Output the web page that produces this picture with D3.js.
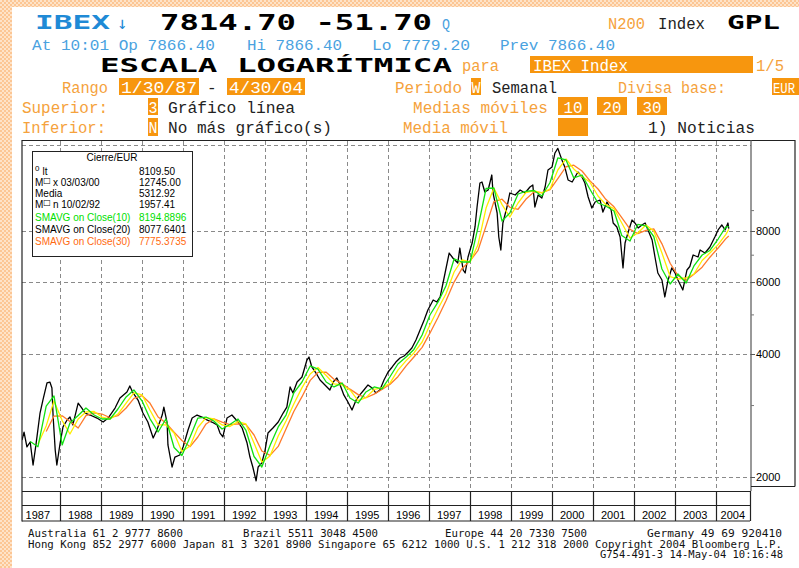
<!DOCTYPE html>
<html><head><meta charset="utf-8">
<script src="https://cdn.jsdelivr.net/npm/d3@7"></script>
<style>
html,body{margin:0;padding:0;background:#fff;}
svg{display:block;}
</style></head><body>
<svg id="c" width="799" height="568"></svg>
<script>
// ---------------- DATA ----------------
const priceDates = [1987.08,1987.13,1987.20,1987.28,1987.35,1987.42,1987.52,1987.59,1987.69,1987.76,1987.81,1987.84,1987.89,1987.93,
1988.01,1988.08,1988.18,1988.25,1988.32,1988.45,1988.54,1988.62,1988.74,1988.91,
1989.06,1989.18,1989.35,1989.47,1989.64,1989.71,1989.79,1989.91,
1990.03,1990.15,1990.28,1990.37,1990.50,1990.54,1990.62,1990.64,1990.74,1990.81,1990.93,
1991.01,1991.13,1991.23,1991.35,1991.47,1991.59,1991.71,1991.84,1991.91,1991.98,
1992.08,1992.20,1992.35,1992.45,1992.57,1992.64,1992.71,1992.79,1992.84,1992.93,
1993.01,1993.08,1993.20,1993.33,1993.45,1993.54,1993.62,1993.69,1993.79,1993.91,
1994.03,1994.08,1994.15,1994.28,1994.35,1994.47,1994.59,1994.67,1994.76,1994.84,1994.93,
1995.03,1995.13,1995.23,1995.32,1995.42,1995.52,1995.62,1995.71,1995.81,1995.91,
1996.01,1996.11,1996.20,1996.30,1996.40,1996.50,1996.59,1996.69,1996.79,1996.89,1996.98,
1997.11,1997.20,1997.28,1997.40,1997.50,1997.59,1997.71,1997.76,1997.84,1997.89,1997.96,
1998.06,1998.13,1998.18,1998.25,1998.30,1998.37,1998.45,1998.54,1998.57,1998.67,1998.71,1998.76,1998.81,1998.91,1998.98,
1999.11,1999.23,1999.35,1999.47,1999.54,1999.59,1999.67,1999.76,1999.84,1999.91,
2000.01,2000.08,2000.15,2000.25,2000.32,2000.40,2000.50,2000.57,2000.64,2000.74,2000.81,2000.89,2000.98,
2001.06,2001.18,2001.25,2001.35,2001.45,2001.50,2001.59,2001.67,2001.74,2001.79,2001.86,2001.96,
2002.03,2002.11,2002.20,2002.28,2002.35,2002.45,2002.52,2002.59,2002.69,2002.76,2002.84,2002.93,
2003.01,2003.08,2003.20,2003.30,2003.37,2003.45,2003.57,2003.62,2003.74,2003.86,2003.98,
2004.06,2004.15,2004.23,2004.30,2004.32];
const priceValues = [2464,2576,2369,2436,2140,2396,2868,3086,3398,3415,3303,2804,2328,2140,
2422,2652,2758,2804,2682,3034,2950,2868,2836,2788,
2726,2788,2950,3122,3229,3341,3212,3086,
2868,2726,2492,2606,2836,2966,2712,2396,2116,2238,2264,
2368,2606,2788,2836,2804,2758,2726,2682,2562,2506,
2788,2836,2726,2636,2422,2238,2116,1957,2116,2164,
2328,2562,2636,2726,2868,2966,3322,3212,3416,3514,
3866,3932,3718,3554,3454,3360,3266,3416,3494,3360,3176,
3052,2918,3086,3176,3266,3360,3303,3212,3266,3454,
3614,3718,3823,3910,3955,4046,4139,4328,4580,4846,5126,
5424,5363,5516,6314,7066,6871,6680,7268,6422,6314,6910,
7476,8184,9158,10486,10544,9968,10080,10968,9911,8854,7734,7188,8370,9158,9911,
9800,10080,9911,10252,10368,9158,9800,9636,10252,11282,
11476,12417,12745,11938,11476,10666,10544,10845,11156,10845,10486,9690,9106,
9420,9528,8904,9420,9004,8370,8184,7734,6496,7476,7910,8511,
8370,8139,8277,8370,8048,7604,6910,6314,6070,5516,6070,6496,
6314,6070,5738,6422,6550,6988,6910,7188,7066,7310,7734,
8048,8277,8048,8370,8110];

const maDates = [1987.28,1987.47,1987.67,1987.86,1988.06,1988.25,1988.45,1988.64,1988.84,1989.03,
1989.23,1989.42,1989.62,1989.81,1990.01,1990.20,1990.40,1990.59,1990.79,1990.98,
1991.18,1991.37,1991.57,1991.76,1991.96,1992.15,1992.35,1992.54,1992.74,1992.93,
1993.13,1993.33,1993.52,1993.71,1993.91,1994.11,1994.30,1994.50,1994.69,1994.89,
1995.08,1995.28,1995.47,1995.67,1995.86,1996.06,1996.25,1996.45,1996.64,1996.84,
1997.03,1997.23,1997.42,1997.62,1997.81,1998.01,1998.20,1998.40,1998.59,1998.79,
1998.98,1999.18,1999.37,1999.57,1999.76,1999.96,2000.15,2000.35,2000.54,2000.74,
2000.93,2001.13,2001.32,2001.52,2001.71,2001.91,2002.10,2002.30,2002.49,2002.69,
2002.89,2003.08,2003.28,2003.47,2003.67,2003.86,2004.06,2004.25,2004.32];
const ma10 = [2443,2372,2983,3158,2396,2712,2828,2950,2836,2773,
2773,2934,3140,3266,3069,2780,2577,2773,2362,2258,
2506,2788,2804,2742,2621,2689,2773,2606,2245,2116,
2389,2652,2836,3212,3416,3739,3675,3416,3322,3396,
3122,3034,3230,3322,3285,3524,3781,3932,4104,4452,
4984,5363,5869,6833,6718,6718,8139,10165,10194,8463,
8854,9855,9996,10052,9745,10515,12073,11938,10788,10968,
10137,9367,9210,8954,7800,7561,8300,8230,7756,6458,
5935,6279,5968,6569,6988,7168,7647,8184,8195];
const ma20 = [null,2410,2667,3069,2749,2548,2773,2885,2893,2804,
2773,2852,3034,3212,3176,2918,2682,2682,2562,2308,
2382,2643,2795,2773,2682,2658,2733,2697,2422,2175,
2252,2520,2742,3017,3310,3574,3707,3544,3379,3360,
3266,3076,3128,3275,3303,3398,3654,3853,4023,4280,
4710,5169,5610,6350,6794,6718,7392,9106,10194,9283,
8656,9367,9935,10024,9911,10137,11282,12005,11346,10875,
10544,9745,9288,9075,8370,7690,7910,8277,8000,7066,
6188,6104,6138,6279,6775,7066,7408,7851,8078];
const ma30 = [null,null,2585,2820,2823,2734,2636,2826,2872,2852,
2793,2826,2950,3114,3162,3034,2804,2712,2575,2456,
2373,2506,2697,2777,2726,2685,2697,2692,2534,2315,
2259,2376,2621,2892,3145,3448,3606,3609,3469,3384,
3281,3181,3126,3190,3275,3373,3520,3741,3934,4153,
4498,4921,5393,6000,6469,6765,7160,8236,9437,9568,
9142,9042,9566,9974,9929,10097,10740,11490,11590,11220,
10625,10137,9566,9170,8627,8082,7880,8030,8098,7442,
6670,6218,6062,6270,6525,6902,7268,7664,7775];

const yearLabels = [1987,1988,1989,1990,1991,1992,1993,1994,1995,1996,1997,1998,1999,2000,2001,2002,2003,2004];
const yTickValues = [2000,4000,6000,8000];
const yMinorTicks = [3000,5000,7000,9000];
const gridValues = [2000,4000,6000,8000,13000];

const legendTitle = "Cierre/EUR";
const legendNames = ["lt","x  03/03/00","Media","n  10/02/92","SMAVG on Close(10)","SMAVG on Close(20)","SMAVG on Close(30)"];
const legendValues = ["8109.50","12745.00","5312.92","1957.41","8194.8896","8077.6401","7775.3735"];
const legendColors = ["#000","#000","#000","#000","#00e000","#000","#ff6a10"];

// ---------------- DRAW ----------------
const svg = d3.select("#c");
const defs = svg.append("defs");
const pat = defs.append("pattern").attr("id","chk").attr("width",4).attr("height",4).attr("patternUnits","userSpaceOnUse");
pat.append("rect").attr("width",4).attr("height",4).attr("fill","#fcc694");
pat.append("rect").attr("x",0).attr("y",0).attr("width",2).attr("height",2).attr("fill","#fee3c8");
pat.append("rect").attr("x",2).attr("y",2).attr("width",2).attr("height",2).attr("fill","#fee3c8");
defs.append("clipPath").attr("id","plotclip").append("rect").attr("x",22).attr("y",141).attr("width",729).attr("height",350);

svg.append("rect").attr("width",799).attr("height",568).attr("fill","#fff");
svg.append("rect").attr("x",0).attr("y",0).attr("width",12).attr("height",568).attr("fill","url(#chk)");
svg.append("rect").attr("x",0).attr("y",0).attr("width",799).attr("height",7).attr("fill","url(#chk)");

const MONO = "'Liberation Mono','DejaVu Sans Mono',monospace";
const BOLD = "'DejaVu Sans Mono','Liberation Mono',monospace";
function txt(x, y, s, o) {
  o = o || {};
  const t = svg.append("text").attr("x", x).attr("y", y).text(s)
    .attr("font-family", o.ff || MONO).attr("font-size", o.fs || 16)
    .attr("fill", o.fill || "#222").attr("font-weight", o.fw || "normal");
  if (o.tl) t.attr("textLength", o.tl).attr("lengthAdjust", "spacingAndGlyphs");
  if (o.anchor) t.attr("text-anchor", o.anchor);
  return t;
}
function box(x, y, w, h, fill) {
  svg.append("rect").attr("x", x).attr("y", y).attr("width", w).attr("height", h).attr("fill", fill || "#f7960e");
}
const BLUE = "#1f8ad6", LBLUE = "#4aa2df", ORG = "#f5a23c", ORGB = "#f7960e", DARK = "#222";

// line 1
txt(35, 29, "IBEX", {ff: BOLD, fs: 20, fw: "bold", fill: BLUE, tl: 75});
txt(117, 29, "\u2193", {ff: BOLD, fs: 17, fill: BLUE});
txt(160, 30, "7814.70 -51.70", {ff: BOLD, fs: 21, fw: "bold", fill: "#000", tl: 272});
txt(442, 29, "Q", {fs: 15, fill: LBLUE, tl: 8});
txt(608, 29, "N200", {fs: 16, fill: ORG, tl: 37});
txt(658, 29, "Index", {fs: 16, fill: DARK, tl: 47});
txt(727, 29, "GPL", {ff: BOLD, fs: 20, fw: "bold", fill: "#000", tl: 53});
// line 2
txt(32, 49.5, "At 10:01 Op 7866.40", {fs: 14.5, fill: LBLUE, tl: 183});
txt(247, 49.5, "Hi 7866.40", {fs: 14.5, fill: LBLUE, tl: 95});
txt(372, 49.5, "Lo 7779.20", {fs: 14.5, fill: LBLUE, tl: 98});
txt(500, 49.5, "Prev 7866.40", {fs: 14.5, fill: LBLUE, tl: 115});
// line 3
txt(100, 72, "ESCALA LOGARÍTMICA", {ff: BOLD, fs: 20, fw: "bold", fill: "#000", tl: 352});
txt(462, 71, "para", {fs: 16, fill: ORG, tl: 37});
box(530, 56, 223, 17, ORGB);
txt(533, 71, "IBEX Index", {fs: 16, fill: "#fff", tl: 95});
txt(756, 71, "1/5", {fs: 16, fill: ORG, tl: 28});
// line 4
txt(62, 93, "Rango", {fs: 16, fill: ORG, tl: 46});
box(119, 78, 80, 17, ORGB); txt(121, 93, "1/30/87", {fs: 16, fill: "#fff", tl: 76});
txt(207, 93, "-", {fs: 16, fill: DARK});
box(227, 78, 78, 17, ORGB); txt(229, 93, "4/30/04", {fs: 16, fill: "#fff", tl: 74});
txt(395, 93, "Periodo", {fs: 16, fill: ORG, tl: 67});
box(471, 78, 10, 17, ORGB); txt(471.5, 93, "W", {fs: 16, fill: "#fff", tl: 9});
txt(492, 93, "Semanal", {fs: 16, fill: DARK, tl: 65});
txt(618, 93, "Divisa base:", {fs: 16, fill: ORG, tl: 108});
box(772, 78, 27, 17, ORGB); txt(773, 93, "EUR", {fs: 15, fill: "#fff", tl: 22});
// line 5
txt(22, 113, "Superior:", {fs: 16, fill: ORG, tl: 86});
box(148, 98, 10, 17, ORGB); txt(148.5, 113, "3", {fs: 16, fill: "#fff", tl: 9});
txt(168, 113, "Gráfico línea", {fs: 16, fill: DARK, tl: 127});
txt(413, 113, "Medias móviles", {fs: 16, fill: ORG, tl: 135});
[[558, "10"], [597, "20"], [637, "30"]].forEach(([bx, s]) => {
  box(bx, 97, 30, 18, ORGB);
  txt(bx + 15, 113, s, {fs: 16, fill: "#fff", anchor: "middle", tl: 19});
});
// line 6
txt(22, 133, "Inferior:", {fs: 16, fill: ORG, tl: 84});
box(148, 118, 10, 18, ORGB); txt(148.5, 133, "N", {fs: 16, fill: "#fff", tl: 9});
txt(168, 133, "No más gráfico(s)", {fs: 16, fill: DARK, tl: 164});
txt(403, 133, "Media móvil", {fs: 16, fill: ORG, tl: 105});
box(558, 118, 30, 18, ORGB);
txt(648, 133, "1) Noticias", {fs: 16, fill: DARK, tl: 107});

// ---------------- CHART ----------------
const x = d3.scaleLinear().domain([1987.08, 2004.85]).range([22, 750.5]);
const y = d3.scaleLog().domain([2000, 8000]).range([477, 231]);
const chart = svg.append("g");
const SANS = "'Liberation Sans', Arial, sans-serif";

// grid
chart.selectAll(".hg").data(gridValues).enter().append("line")
  .attr("x1", 22).attr("x2", 751).attr("y1", d => Math.round(y(d)) + 0.5).attr("y2", d => Math.round(y(d)) + 0.5)
  .attr("stroke", "#8a8a8a").attr("stroke-dasharray", "4,3").attr("stroke-width", 1);
const yearBounds = yearLabels.slice(1);
chart.selectAll(".vg").data(yearBounds).enter().append("line")
  .attr("x1", d => Math.round(x(d)) + 0.5).attr("x2", d => Math.round(x(d)) + 0.5)
  .attr("y1", 141).attr("y2", 491)
  .attr("stroke", "#8a8a8a").attr("stroke-dasharray", "4,3").attr("stroke-width", 1);

// series
const plot = chart.append("g").attr("clip-path", "url(#plotclip)");
const line = d3.line().defined(d => d[1] != null).x(d => x(d[0])).y(d => y(d[1]));
const priceData = priceDates.map((d, i) => [d, priceValues[i]]);
plot.append("path").datum(priceData).attr("d", line).attr("fill", "none")
  .attr("stroke", "#000").attr("stroke-width", 1.3).attr("stroke-linejoin", "round");
[[ma30, "#ff7a2a"], [ma20, "#ffee00"], [ma10, "#11e011"]].forEach(([arr, col]) => {
  plot.append("path").datum(maDates.map((d, i) => [d, arr[i]])).attr("d", line)
    .attr("fill", "none").attr("stroke", col).attr("stroke-width", 1.3).attr("stroke-linejoin", "round");
});

// frame
const fr = (x1, y1, x2, y2, c, w) => chart.append("line").attr("x1", x1).attr("y1", y1).attr("x2", x2).attr("y2", y2)
  .attr("stroke", c || "#222").attr("stroke-width", w || 1.2);
fr(22, 140.5, 795, 140.5);
fr(22, 140, 22, 521.5);
fr(751, 140, 751, 491, "#555", 1.2);
fr(795, 140, 795, 486.5, "#222", 1.2);
fr(751, 486.5, 795, 486.5, "#222", 1.2);
fr(22, 491.5, 751, 491.5);
fr(22, 505.5, 750, 505.5);
fr(22, 521, 750, 521);
const cellEdges = yearBounds.map(d => Math.round(x(d)) + 0.5).concat([750.5]);
cellEdges.forEach(cx => fr(cx, 491, cx, 521));

// year labels
const cellStart = [22].concat(yearBounds.map(d => x(d)));
const cellEnd = yearBounds.map(d => x(d)).concat([750]);
chart.selectAll(".yl").data(yearLabels).enter().append("text")
  .attr("x", (d, i) => (cellStart[i] + cellEnd[i]) / 2 - (i === 0 ? 3 : 0)).attr("y", 519)
  .attr("text-anchor", "middle").attr("font-family", SANS).attr("font-size", 11).attr("fill", "#000")
  .text(d => d);

// y axis
const ax = chart.append("g").attr("transform", "translate(751,0)")
  .call(d3.axisRight(y).tickValues(yTickValues).tickFormat(d3.format("d")).tickSize(4).tickPadding(1));
ax.select(".domain").remove();
ax.selectAll("line").attr("stroke", "#555");
ax.selectAll("text").attr("font-family", SANS).attr("font-size", 11).attr("fill", "#000");
const axm = chart.append("g").attr("transform", "translate(751,0)")
  .call(d3.axisRight(y).tickValues(yMinorTicks).tickFormat("").tickSize(3));
axm.select(".domain").remove();
axm.selectAll("line").attr("stroke", "#777");

// legend
const lg = svg.append("g");
lg.append("rect").attr("x", 32.5).attr("y", 151.5).attr("width", 160).attr("height", 105)
  .attr("fill", "#fff").attr("stroke", "#222").attr("stroke-width", 1);
lg.append("text").attr("x", 112).attr("y", 161).attr("text-anchor", "middle")
  .attr("font-family", SANS).attr("font-size", 10).text(legendTitle);
const rowY = [175, 186, 197, 208, 221, 233, 245];
legendNames.forEach((n, i) => {
  const t = lg.append("text").attr("x", 35).attr("y", rowY[i]).attr("font-family", SANS)
    .attr("font-size", 10).attr("fill", legendColors[i]);
  if (i === 0) {
    t.append("tspan").attr("font-size", 8).attr("dy", -4).text("0");
    t.append("tspan").attr("dy", 4).attr("dx", 3).text(n);
  } else if (i === 1 || i === 3) {
    t.append("tspan").text("M");
    t.append("tspan").attr("font-size", 8).attr("dy", -3).attr("font-family", "DejaVu Sans").text("\u25A1");
    t.append("tspan").attr("dy", 3).attr("dx", 2).text(n);
  } else {
    t.text(n);
  }
  lg.append("text").attr("x", 139).attr("y", rowY[i]).attr("font-family", SANS)
    .attr("font-size", 10).attr("fill", legendColors[i]).text(legendValues[i]);
});

// footer
const FOOT = "'DejaVu Sans Mono', monospace";
txt(28, 537, "Australia 61 2 9777 8600", {ff: FOOT, fs: 10.5, fill: "#111", tl: 155});
txt(243, 537, "Brazil 5511 3048 4500", {ff: FOOT, fs: 10.5, fill: "#111", tl: 135});
txt(445, 537, "Europe 44 20 7330 7500", {ff: FOOT, fs: 10.5, fill: "#111", tl: 142});
txt(647, 537, "Germany 49 69 920410", {ff: FOOT, fs: 10.5, fill: "#111", tl: 135});
txt(28, 547.5, "Hong Kong 852 2977 6000 Japan 81 3 3201 8900 Singapore 65 6212 1000 U.S. 1 212 318 2000 Copyright 2004 Bloomberg L.P.", {ff: FOOT, fs: 10.5, fill: "#111", tl: 754});
txt(600, 558, "G754-491-3 14-May-04 10:16:48", {ff: FOOT, fs: 10.5, fill: "#111", tl: 183});
</script>
</body></html>
